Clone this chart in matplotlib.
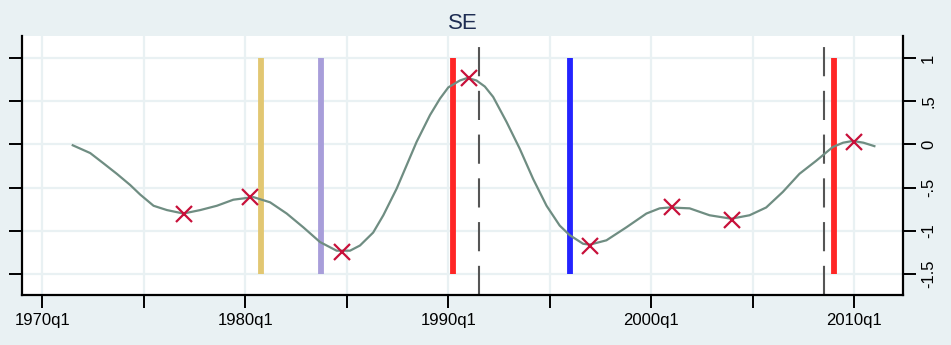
import matplotlib.pyplot as plt

plt.rcParams['font.family'] = ['Liberation Sans', 'DejaVu Sans']

# smoothed series (decimal years, value)
years = [1971.5, 1972.36, 1973.02, 1973.67, 1974.33, 1974.82, 1975.48, 1976.14, 1976.95,
         1977.78, 1978.6, 1979.41, 1980.07, 1980.4, 1981.22, 1982.04, 1982.86, 1983.68,
         1984.5, 1985.16, 1985.65, 1986.3, 1986.8, 1987.46, 1987.95, 1988.44, 1989.1,
         1989.59, 1990.0, 1990.57, 1990.95, 1991.39, 1991.8, 1992.21, 1992.87, 1993.52,
         1994.18, 1994.84, 1995.49, 1995.98, 1996.64, 1996.97, 1997.79, 1998.77, 1999.76,
         2000.41, 2000.9, 2001.89, 2002.87, 2003.94, 2004.84, 2005.66, 2006.48, 2007.3,
         2008.12, 2008.94, 2009.45, 2009.92, 2010.45, 2010.99]
values = [-0.01, -0.10, -0.22, -0.34, -0.47, -0.58, -0.71, -0.76, -0.80,
          -0.76, -0.71, -0.64, -0.62, -0.61, -0.67, -0.80, -0.96, -1.13,
          -1.23, -1.23, -1.17, -1.02, -0.82, -0.51, -0.24, 0.03, 0.34,
          0.53, 0.66, 0.74, 0.77, 0.74, 0.67, 0.55, 0.26, -0.05,
          -0.40, -0.71, -0.94, -1.05, -1.15, -1.16, -1.11, -0.96, -0.80,
          -0.74, -0.73, -0.74, -0.82, -0.86, -0.82, -0.73, -0.55, -0.34,
          -0.19, -0.03, 0.02, 0.04, 0.02, -0.02]

# turning points
peak_years = [1977.0, 1980.25, 1984.75, 1991.0, 1997.0, 2001.0, 2004.0, 2010.0]
peak_values = [-0.80, -0.61, -1.25, 0.77, -1.18, -0.73, -0.87, 0.03]

# event bars
bar_years = [1980.75, 1983.75, 1990.25, 1996.0, 2009.0]
bar_colors = ['#E2C772', '#A89EDA', '#FF2626', '#2424FF', '#FF2626']

# dashed reference dates
dash_years = [1991.5, 2008.5]

bg = '#E9F1F3'
fig = plt.figure(figsize=(9.51, 3.45), dpi=100, facecolor=bg)
ax = fig.add_axes([22/951, 50/345, 881/951, 259/345])
ax.set_facecolor('white')

ax.set_xlim(1969.0, 2012.4)
ax.set_ylim(-1.743, 1.255)

xt = list(range(1970, 2011, 5))
ax.set_xticks(xt)
ax.set_xticklabels([f'{y}q1' if y % 10 == 0 else '' for y in xt])
yt = [1, 0.5, 0, -0.5, -1, -1.5]
ax.set_yticks(yt)
ax.set_yticklabels(['1', '.5', '0', '-.5', '-1', '-1.5'], va='center')
ax.grid(True, color=bg, lw=1.6, zorder=0)

for x, c in zip(bar_years, bar_colors):
    ax.vlines(x, -1.5, 1, color=c, lw=4.2, zorder=2)
for x in dash_years:
    ax.axvline(x, color='#555555', lw=1.5, dashes=(14, 7), zorder=2)

ax.plot(years, values, color='#6F8D82', lw=1.6, zorder=3)
ax.plot(peak_years, peak_values, 'x', color='#C8103A', ms=11, mew=1.6, zorder=4)

for s in ['left', 'bottom', 'right']:
    ax.spines[s].set_linewidth(1.6)
ax.spines['top'].set_visible(False)

ax.tick_params(axis='both', length=9.5, width=1.4, labelsize=12, color='black')
ax.tick_params(axis='y', left=True, labelleft=False, right=True, labelright=True,
               labelrotation=90)

ax.set_title('SE', fontsize=16, color='#1E2D53', pad=5)

fig.savefig('out.png', dpi=100, facecolor=bg)
